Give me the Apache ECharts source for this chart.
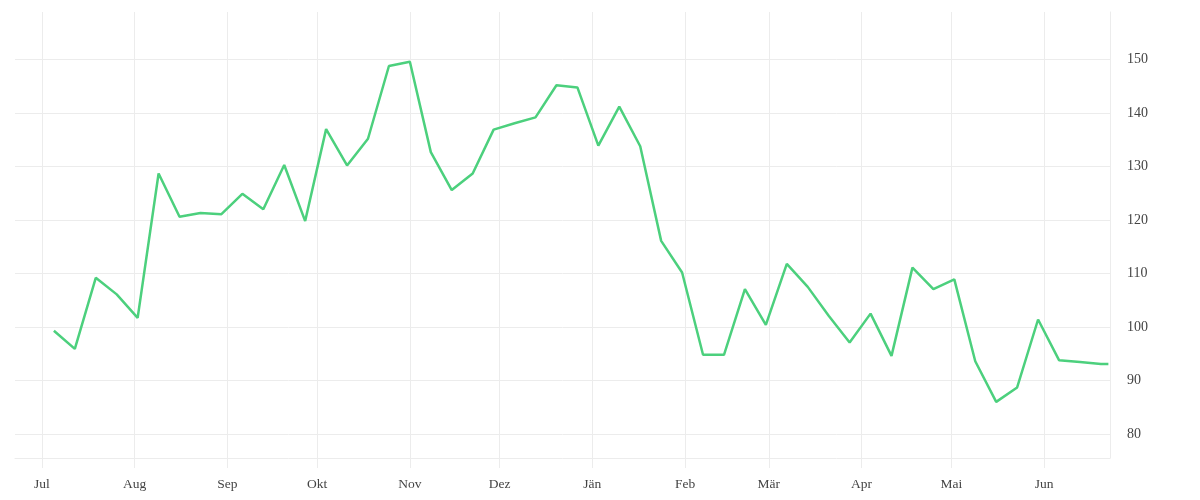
<!DOCTYPE html>
<html>
<head>
<meta charset="utf-8">
<script src="https://cdn.jsdelivr.net/npm/echarts@6/dist/echarts.min.js"></script>
<style>
html,body{margin:0;padding:0;background:#fff;}
#chart{width:1200px;height:500px;}
</style>
</head>
<body>
<div id="chart"></div>
<script>
const dates = [
  '2022-07-05','2022-07-12','2022-07-19','2022-07-26','2022-08-02','2022-08-09','2022-08-16','2022-08-23','2022-08-30',
  '2022-09-06','2022-09-13','2022-09-20','2022-09-27','2022-10-04','2022-10-11','2022-10-18','2022-10-25',
  '2022-11-01','2022-11-08','2022-11-15','2022-11-22','2022-11-29','2022-12-06','2022-12-13','2022-12-20','2022-12-27',
  '2023-01-03','2023-01-10','2023-01-17','2023-01-24','2023-01-31','2023-02-07','2023-02-14','2023-02-21','2023-02-28',
  '2023-03-07','2023-03-14','2023-03-21','2023-03-28','2023-04-04','2023-04-11','2023-04-18','2023-04-25',
  '2023-05-02','2023-05-09','2023-05-16','2023-05-23','2023-05-30','2023-06-06','2023-06-13','2023-06-20','2023-06-22 12:00:00'
];
const values = [
  99.3, 95.9, 109.2, 106.1, 101.7, 128.7, 120.6, 121.3, 121.1,
  124.9, 122.0, 130.3, 119.8, 137.0, 130.2, 135.2, 148.8,
  149.6, 132.7, 125.6, 128.7, 136.9, 138.1, 139.2, 145.2, 144.8,
  133.9, 141.2, 133.8, 116.1, 110.2, 94.8, 94.8, 107.1, 100.4,
  111.8, 107.5, 102.1, 97.1, 102.5, 94.6, 111.1, 107.1,
  108.9, 93.6, 86.0, 88.7, 101.4, 93.8, 93.45, 93.1, 93.1
];
const monthNames = ['Jän','Feb','Mär','Apr','Mai','Jun','Jul','Aug','Sep','Okt','Nov','Dez'];
const xMin = '2022-06-22 00:00:00';
const xMax = '2023-06-23 01:00:00';
const yMin = 75.5;
const yMax = 158.9;

const chart = echarts.init(document.getElementById('chart'), null, {renderer:'canvas'});
const gridColor = '#ececec';
const font = '"Liberation Serif", "DejaVu Serif", serif';
chart.setOption({
  animation: false,
  grid: {left: 15, right: 90, top: 12, bottom: 42, containLabel: false},
  xAxis: {
    type: 'time',
    min: xMin,
    max: xMax,
    splitNumber: 12,
    minInterval: 28 * 86400000,
    maxInterval: 31 * 86400000,
    axisLine: {show: true, lineStyle: {color: gridColor, width: 1}},
    axisTick: {show: true, length: 10, lineStyle: {color: gridColor}},
    splitLine: {show: true, showMinLine: false, lineStyle: {color: gridColor, width: 1}},
    axisLabel: {
      showMinLabel: false,
      showMaxLabel: false,
      margin: 19,
      color: '#444',
      fontFamily: font,
      fontSize: 13.5,
      hideOverlap: false,
      formatter: function (v) { return monthNames[new Date(v).getMonth()]; }
    }
  },
  yAxis: {
    type: 'value',
    position: 'right',
    min: yMin,
    max: yMax,
    splitNumber: 8,
    axisLine: {show: true, lineStyle: {color: gridColor, width: 1}},
    axisTick: {show: false},
    splitLine: {show: true, showMinLine: false, showMaxLine: false, lineStyle: {color: gridColor, width: 1}},
    axisLabel: {
      showMinLabel: false,
      showMaxLabel: false,
      margin: 17,
      padding: [5, 0, 0, 0],
      color: '#444',
      fontFamily: font,
      fontSize: 14
    }
  },
  series: [{
    type: 'line',
    data: dates.map((d, i) => [d, values[i]]),
    showSymbol: false,
    symbol: 'none',
    lineStyle: {color: '#4cd07d', width: 2.5},
    itemStyle: {color: '#4cd07d'}
  }]
});
</script>
</body>
</html>
